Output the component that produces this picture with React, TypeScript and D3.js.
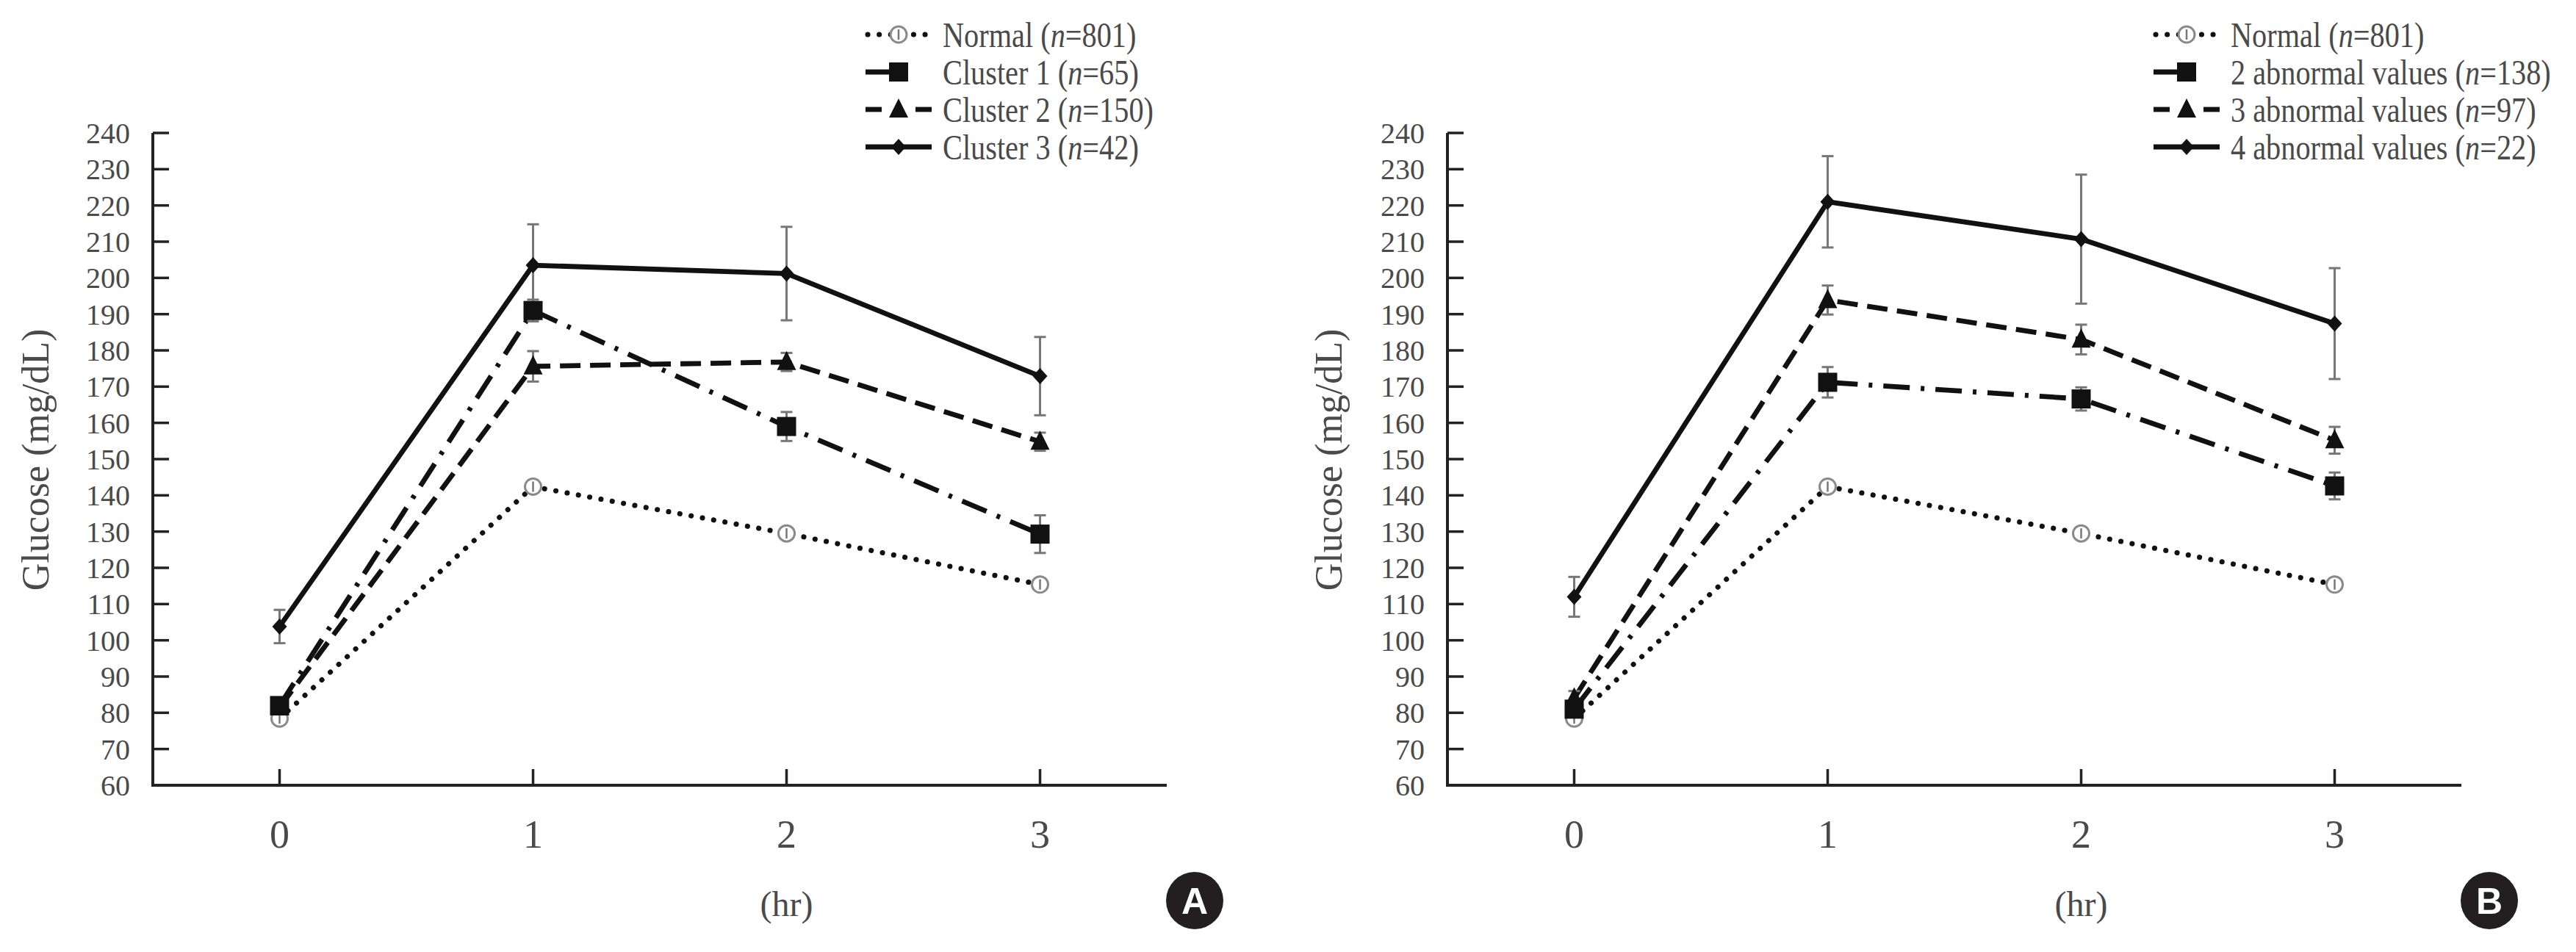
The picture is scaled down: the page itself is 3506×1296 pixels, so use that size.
import React from "react";
import * as d3 from "d3";

const hours = [0, 1, 2, 3];
const yTicks = [60, 70, 80, 90, 100, 110, 120, 130, 140, 150, 160, 170, 180, 190, 200, 210, 220, 230, 240];

const normal = [78.4, 142.4, 129.5, 115.4];
const normalErr = [0.8, 0.8, 0.8, 0.8];

const cluster1 = [82.0, 191.0, 159.0, 129.3];
const cluster1Err = [1.5, 3, 4, 5.2];
const cluster2 = [81.5, 175.6, 176.8, 154.8];
const cluster2Err = [1.5, 4.2, 2.5, 2.5];
const cluster3 = [103.8, 203.5, 201.2, 172.9];
const cluster3Err = [4.6, 11.3, 12.9, 10.8];

const abn2 = [81.0, 171.2, 166.6, 142.6];
const abn2Err = [1.5, 4.2, 3.2, 3.7];
const abn3 = [84.0, 193.9, 183.0, 155.2];
const abn3Err = [2, 4, 4.1, 3.7];
const abn4 = [112.0, 221.0, 210.7, 187.4];
const abn4Err = [5.5, 12.6, 17.8, 15.3];

const labelsA = ["Normal", "Cluster 1", "Cluster 2", "Cluster 3"];
const nA = ["801", "65", "150", "42"];
const labelsB = ["Normal", "2 abnormal values", "3 abnormal values", "4 abnormal values"];
const nB = ["801", "138", "97", "22"];

type Style = { dash: string; marker: string };
const styles: Style[] = [
  { dash: "0.1 15.5", marker: "circle" },
  { dash: "36 15 5 15", marker: "square" },
  { dash: "28 13", marker: "triangle" },
  { dash: "none", marker: "diamond" },
];

const FONT = "'Liberation Serif', 'Times New Roman', serif";
const TXT = "#4a4a4a";
const LW = 6.8;

function Marker({ kind, x, y }: { kind: string; x: number; y: number }) {
  if (kind === "circle") {
    return (
      <g>
        <circle cx={x} cy={y} r={11} fill="#fff" stroke="#8a8a8a" strokeWidth={3} />
        <line x1={x} y1={y - 7} x2={x} y2={y + 7} stroke="#777" strokeWidth={2.5} />
      </g>
    );
  }
  if (kind === "square") {
    return <rect x={x - 13} y={y - 13} width={26} height={26} fill="#111" />;
  }
  if (kind === "triangle") {
    return <path d={`M${x},${y - 15} L${x + 13},${y + 11} L${x - 13},${y + 11} Z`} fill="#111" />;
  }
  return <path d={`M${x},${y - 11} L${x + 10},${y} L${x},${y + 11} L${x - 10},${y} Z`} fill="#111" />;
}

function Panel({
  x0, x1, series, errs, labels, ns, legendX, titleX, badge, badgeX,
}: {
  x0: number; x1: number; series: number[][]; errs: number[][]; labels: string[]; ns: string[];
  legendX: number; titleX: number; badge: string; badgeX: number;
}) {
  const x = d3.scaleLinear().domain([-0.5, 3.5]).range([x0, x1]);
  const y = d3.scaleLinear().domain([60, 240]).range([1069, 181]);
  const line = d3
    .line<number>()
    .x((_, i) => x(hours[i]))
    .y((d) => y(d));
  const tickLen = 22;
  return (
    <g>
      <line x1={x0} y1={y(240)} x2={x0} y2={y(60)} stroke="#222" strokeWidth={4} />
      <line x1={x0 - 2} y1={y(60)} x2={x1} y2={y(60)} stroke="#222" strokeWidth={4} />
      {yTicks.slice(1).map((t) => (
        <line key={t} x1={x0} x2={x0 + tickLen} y1={y(t)} y2={y(t)} stroke="#222" strokeWidth={3.5} />
      ))}
      {yTicks.map((t) => (
        <text key={"l" + t} x={x0 - 31} y={y(t) + 14} textAnchor="end" fontFamily={FONT} fontSize={40} fill={TXT}>
          {t}
        </text>
      ))}
      {hours.map((h) => (
        <line key={"xt" + h} x1={x(h)} x2={x(h)} y1={y(60)} y2={y(60) - tickLen} stroke="#222" strokeWidth={3.5} />
      ))}
      {hours.map((h) => (
        <text key={"xl" + h} x={x(h)} y={1154} textAnchor="middle" fontFamily={FONT} fontSize={54} fill={TXT}>
          {h}
        </text>
      ))}
      <text x={x(2)} y={1247} textAnchor="middle" fontFamily={FONT} fontSize={48} fill={TXT}>
        (hr)
      </text>
      <text
        transform={`translate(${titleX},626) rotate(-90)`}
        textAnchor="middle"
        fontFamily={FONT}
        fontSize={52}
        fill={TXT}
      >
        Glucose (mg/dL)
      </text>

      {series.map((s, si) => (
        <path
          key={"p" + si}
          d={line(s) || ""}
          fill="none"
          stroke="#111"
          strokeWidth={si === 0 ? 7 : LW}
          strokeDasharray={styles[si].dash}
          strokeLinecap={si === 0 ? "round" : "butt"}
          strokeLinejoin="round"
        />
      ))}
      {series.map((s, si) =>
        s.map((v, i) => {
          const e = errs[si][i];
          const cx = x(hours[i]);
          return (
            <g key={`e${si}-${i}`} stroke="#777" strokeWidth={3}>
              <line x1={cx} x2={cx} y1={y(v - e)} y2={y(v + e)} />
              <line x1={cx - 8} x2={cx + 8} y1={y(v + e)} y2={y(v + e)} />
              <line x1={cx - 8} x2={cx + 8} y1={y(v - e)} y2={y(v - e)} />
            </g>
          );
        })
      )}
      {series.map((s, si) =>
        s.map((v, i) => <Marker key={`m${si}-${i}`} kind={styles[si].marker} x={x(hours[i])} y={y(v)} />)
      )}

      {labels.map((lab, i) => {
        const cy = 47 + i * 51;
        const lx0 = legendX - 105;
        const lx1 = legendX - 15;
        const mx = (lx0 + lx1) / 2;
        let seg: React.ReactNode;
        if (i === 1) {
          seg = <line x1={lx0} x2={mx - 8} y1={cy} y2={cy} stroke="#111" strokeWidth={LW} />;
        } else if (i === 2) {
          seg = (
            <g stroke="#111" strokeWidth={LW}>
              <line x1={lx0} x2={lx0 + 22} y1={cy} y2={cy} />
              <line x1={lx1 - 22} x2={lx1} y1={cy} y2={cy} />
            </g>
          );
        } else {
          seg = (
            <line
              x1={lx0 + (i === 0 ? 3 : 0)}
              x2={lx1}
              y1={cy}
              y2={cy}
              stroke="#111"
              strokeWidth={i === 0 ? 7 : LW}
              strokeDasharray={styles[i].dash}
              strokeLinecap={i === 0 ? "round" : "butt"}
            />
          );
        }
        return (
          <g key={"lg" + i}>
            {seg}
            <Marker kind={styles[i].marker} x={mx} y={cy} />
            <text
              transform={`translate(${legendX},${cy + 17}) scale(0.84,1)`}
              fontFamily={FONT}
              fontSize={48}
              fill={TXT}
            >
              {lab} (<tspan fontStyle="italic">n</tspan>={ns[i]})
            </text>
          </g>
        );
      })}

      <circle cx={badgeX} cy={1226} r={39} fill="#231f20" />
      <text
        x={badgeX}
        y={1226 + 18}
        textAnchor="middle"
        fontFamily="'Liberation Sans', Arial, sans-serif"
        fontWeight="bold"
        fontSize={50}
        fill="#fff"
      >
        {badge}
      </text>
    </g>
  );
}

export default function App() {
  return (
    <svg
      width={3506}
      height={1296}
      viewBox="0 0 3506 1296"
      style={{ position: "absolute", left: 0, top: 0, background: "#fff", display: "block" }}
    >
      <rect width={3506} height={1296} fill="#fff" />
      <Panel
        x0={208}
        x1={1588}
        series={[normal, cluster1, cluster2, cluster3]}
        errs={[normalErr, cluster1Err, cluster2Err, cluster3Err]}
        labels={labelsA}
        ns={nA}
        legendX={1283}
        titleX={66}
        badge="A"
        badgeX={1626}
      />
      <Panel
        x0={1970}
        x1={3350}
        series={[normal, abn2, abn3, abn4]}
        errs={[normalErr, abn2Err, abn3Err, abn4Err]}
        labels={labelsB}
        ns={nB}
        legendX={3036}
        titleX={1826}
        badge="B"
        badgeX={3388}
      />
    </svg>
  );
}
